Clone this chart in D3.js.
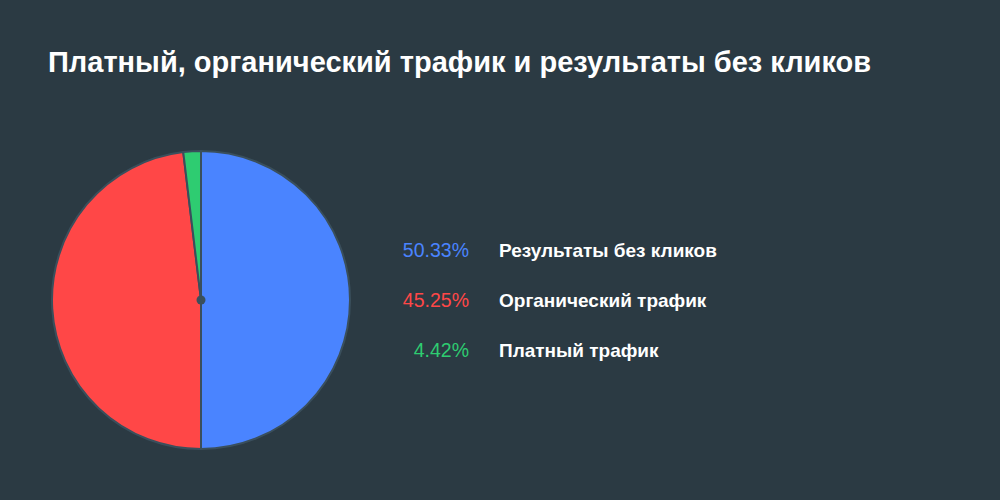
<!DOCTYPE html>
<html>
<head>
<meta charset="utf-8">
<script src="https://cdn.jsdelivr.net/npm/d3@7"></script>
<style>
  body { margin: 0; background: #2b3a43; }
  text { font-family: "Liberation Sans", Arial, sans-serif; }
</style>
</head>
<body>
<div id="chart"></div>
<script>
// categories and values
let categories = ['Результаты без кликов', 'Органический трафик', 'Платный трафик']
let percentLabels = ['50.33%', '45.25%', '4.42%']
// slice shares as drawn in the picture (the drawn pie doesn't follow the labels)
let sliceShares = [50.0, 48.1, 1.9]
let colors = ['#4a84ff', '#ff4747', '#2ecc71']
let title = 'Платный, органический трафик и результаты без кликов'

let width = 1000
let height = 500
let radius = 149
let cx = 201
let cy = 300

let svg = d3
  .select('#chart')
  .append('svg')
  .attr('width', width)
  .attr('height', height)

svg
  .append('rect')
  .attr('width', width)
  .attr('height', height)
  .attr('fill', '#2b3a43')

// title
svg
  .append('text')
  .attr('x', 48)
  .attr('y', 72)
  .attr('fill', '#ffffff')
  .attr('font-size', 29)
  .attr('font-weight', 'bold')
  .text(title)

// pie
let pie = d3.pie().sort(null).value(d => d)
let arc = d3.arc().innerRadius(0).outerRadius(radius)

let g = svg.append('g').attr('transform', 'translate(' + cx + ',' + cy + ')')

g.selectAll('path')
  .data(pie(sliceShares))
  .enter()
  .append('path')
  .attr('d', arc)
  .attr('fill', (d, i) => colors[i])
  .attr('stroke', '#3a4f5c')
  .attr('stroke-width', 2)

g.append('circle').attr('r', 4.5).attr('fill', '#3a4f5c')

// legend
let yScale = d3
  .scalePoint()
  .domain(categories)
  .range([250, 350])

let legend = svg
  .append('g')
  .selectAll('g')
  .data(categories)
  .enter()
  .append('g')
  .attr('transform', d => 'translate(0,' + yScale(d) + ')')

legend
  .append('text')
  .attr('x', 469)
  .attr('dy', '0.35em')
  .attr('text-anchor', 'end')
  .attr('font-size', 19.5)
  .attr('fill', (d, i) => colors[i])
  .text((d, i) => percentLabels[i])

legend
  .append('text')
  .attr('x', 499)
  .attr('dy', '0.35em')
  .attr('font-size', 19)
  .attr('font-weight', 'bold')
  .attr('fill', '#ffffff')
  .text(d => d)
</script>
</body>
</html>
